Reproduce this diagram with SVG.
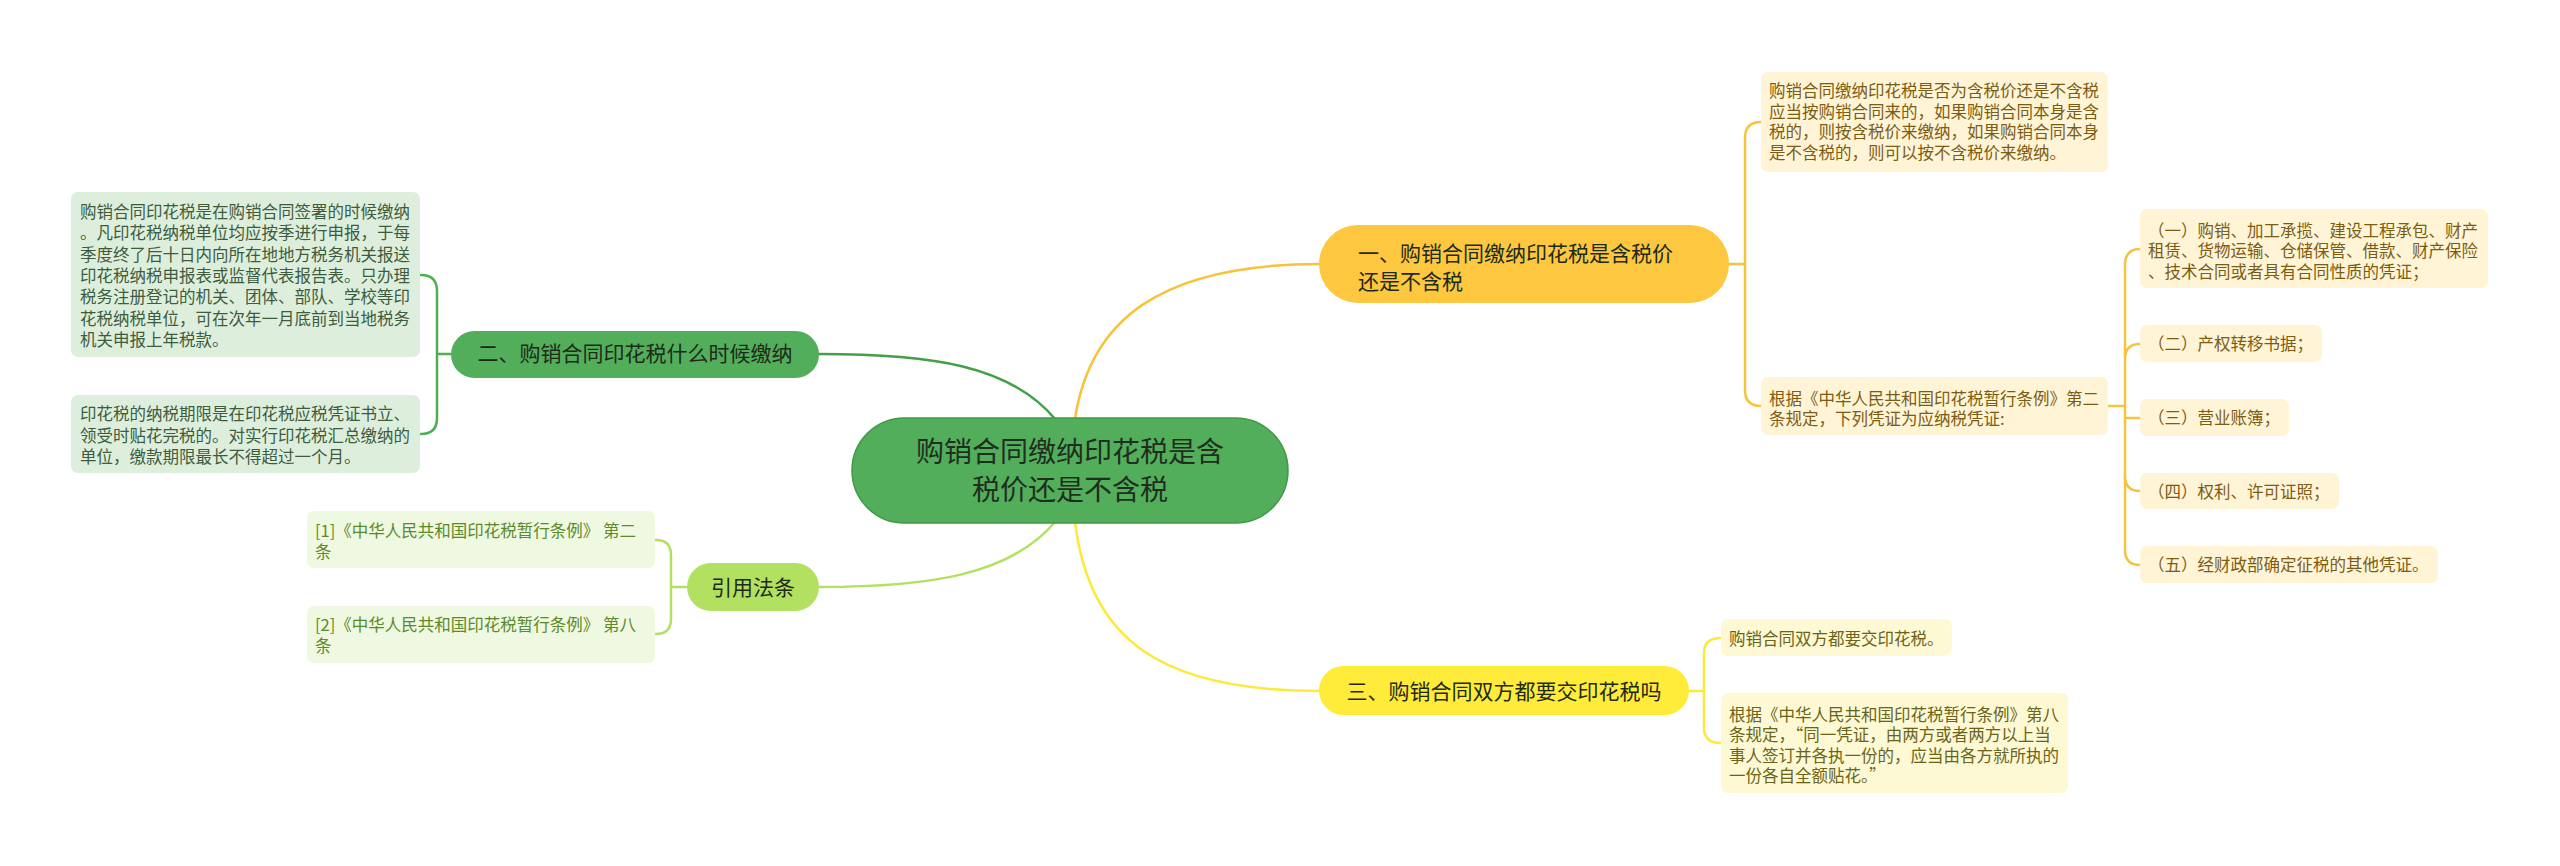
<svg xmlns="http://www.w3.org/2000/svg" width="2560" height="866" viewBox="0 0 2560 866">
<style>
text{font-family:"Noto Sans CJK SC","Noto Sans",sans-serif;}
.conn{fill:none;stroke-width:2.5;stroke-linecap:round;}
.t16{font-size:16.5px;}
.gbox{fill:#ddefdc;}
.gtxt{fill:#3d5c3d;}
.lbox{fill:#eff8e0;}
.ltxt{fill:#5b8a2a;}
.ybox{fill:#fff4d6;}
.ytxt{fill:#7c5c12;}
.bbox{fill:#fdf9d4;}
.btxt{fill:#6b6418;}
.ntxt{font-size:21px;fill:#1e2a18;}
</style>
<rect width="2560" height="866" fill="#ffffff"/>
<g id="connectors">
<path class="conn" stroke="#43a047" d="M1055,419 C1010,365 930,354 819,354"/>
<path class="conn" stroke="#b2e061" d="M1055,522 C1010,575 930,587 819,587"/>
<path class="conn" stroke="#f8c33c" d="M1075,419 C1090,320 1160,264 1320,264"/>
<path class="conn" stroke="#fde93a" d="M1075,522 C1090,640 1160,691 1320,691"/>
<path class="conn" stroke="#4caf50" d="M451,354 H437 M437,354 V291 Q437,275 421,275 M437,354 V418 Q437,434 421,434"/>
<path class="conn" stroke="#b2e061" d="M687,587 H671 M671,587 V555 Q671,540 656,540 M671,587 V619 Q671,634 656,634"/>
<path class="conn" stroke="#f8c33c" d="M1729,264 H1745 M1745,264 V138 Q1745,122 1761,122 M1745,264 V390 Q1745,406 1761,406"/>
<path class="conn" stroke="#f8c33c" d="M2108,406 H2125 M2125,406 V265 Q2125,249 2140,249 M2125,406 V359 Q2125,344 2140,344 M2125,406 V418 H2140 M2125,406 V476 Q2125,491 2140,491 M2125,406 V550 Q2125,565 2140,565"/>
<path class="conn" stroke="#fde93a" d="M1689,691 H1704 M1704,691 V653 Q1704,638 1721,638 M1704,691 V728 Q1704,743 1721,743"/>
</g>
<g id="root">
<rect x="852" y="418" width="436" height="105" rx="52.5" fill="#52ae5a" stroke="#3f9a46" stroke-width="1.5"/>
<text x="1070" y="462" font-size="28" fill="#1f2e1f" text-anchor="middle">购销合同缴纳印花税是含</text>
<text x="1070" y="500" font-size="28" fill="#1f2e1f" text-anchor="middle">税价还是不含税</text>
</g>
<g id="branch-when">
<rect x="451" y="331" width="368" height="47" rx="23.5" fill="#52ae5a"/>
<text class="ntxt" x="635" y="361" text-anchor="middle">二、购销合同印花税什么时候缴纳</text>
</g>
<g id="when-1">
<rect class="gbox" x="71" y="192" width="349" height="165" rx="7"/>
<text class="t16 gtxt" x="80" y="218">购销合同印花税是在购销合同签署的时候缴纳</text>
<text class="t16 gtxt" x="80" y="239.3">。凡印花税纳税单位均应按季进行申报，于每</text>
<text class="t16 gtxt" x="80" y="260.6">季度终了后十日内向所在地地方税务机关报送</text>
<text class="t16 gtxt" x="80" y="281.9">印花税纳税申报表或监督代表报告表。只办理</text>
<text class="t16 gtxt" x="80" y="303.2">税务注册登记的机关、团体、部队、学校等印</text>
<text class="t16 gtxt" x="80" y="324.5">花税纳税单位，可在次年一月底前到当地税务</text>
<text class="t16 gtxt" x="80" y="345.8">机关申报上年税款。</text>
</g>
<g id="when-2">
<rect class="gbox" x="71" y="395" width="349" height="78" rx="7"/>
<text class="t16 gtxt" x="80" y="420">印花税的纳税期限是在印花税应税凭证书立、</text>
<text class="t16 gtxt" x="80" y="441.5">领受时贴花完税的。对实行印花税汇总缴纳的</text>
<text class="t16 gtxt" x="80" y="463">单位，缴款期限最长不得超过一个月。</text>
</g>
<g id="branch-law">
<rect x="687" y="563" width="132" height="48" rx="24" fill="#b2e061"/>
<text class="ntxt" x="753" y="595" text-anchor="middle">引用法条</text>
</g>
<g id="law-1">
<rect class="lbox" x="307" y="511" width="348" height="57" rx="7"/>
<text class="t16 ltxt" x="315" y="536.5">[1]《中华人民共和国印花税暂行条例》 第二</text>
<text class="t16 ltxt" x="315" y="558">条</text>
</g>
<g id="law-2">
<rect class="lbox" x="307" y="606" width="348" height="57" rx="7"/>
<text class="t16 ltxt" x="315" y="630.5">[2]《中华人民共和国印花税暂行条例》 第八</text>
<text class="t16 ltxt" x="315" y="652">条</text>
</g>
<g id="branch-price">
<rect x="1319" y="225" width="410" height="78" rx="39" fill="#fdc83f"/>
<text class="ntxt" x="1358" y="260.5">一、购销合同缴纳印花税是含税价</text>
<text class="ntxt" x="1358" y="289">还是不含税</text>
</g>
<g id="price-1">
<rect class="ybox" x="1761" y="72" width="347" height="100" rx="7"/>
<text class="t16 ytxt" x="1769" y="97">购销合同缴纳印花税是否为含税价还是不含税</text>
<text class="t16 ytxt" x="1769" y="117.5">应当按购销合同来的，如果购销合同本身是含</text>
<text class="t16 ytxt" x="1769" y="138">税的，则按含税价来缴纳，如果购销合同本身</text>
<text class="t16 ytxt" x="1769" y="158.5">是不含税的，则可以按不含税价来缴纳。</text>
</g>
<g id="price-2">
<rect class="ybox" x="1761" y="377" width="347" height="58" rx="7"/>
<text class="t16 ytxt" x="1769" y="405">根据《中华人民共和国印花税暂行条例》第二</text>
<text class="t16 ytxt" x="1769" y="425">条规定，下列凭证为应纳税凭证:</text>
</g>
<g id="item-1">
<rect class="ybox" x="2140" y="209" width="348" height="79" rx="7"/>
<text class="t16 ytxt" x="2148" y="236.5">（一）购销、加工承揽、建设工程承包、财产</text>
<text class="t16 ytxt" x="2148" y="257">租赁、货物运输、仓储保管、借款、财产保险</text>
<text class="t16 ytxt" x="2148" y="277.5">、技术合同或者具有合同性质的凭证；</text>
</g>
<g id="item-2">
<rect class="ybox" x="2140" y="325" width="182" height="37" rx="7"/>
<text class="t16 ytxt" x="2148" y="350">（二）产权转移书据；</text>
</g>
<g id="item-3">
<rect class="ybox" x="2140" y="399" width="149" height="37" rx="7"/>
<text class="t16 ytxt" x="2148" y="424">（三）营业账簿；</text>
</g>
<g id="item-4">
<rect class="ybox" x="2140" y="473" width="199" height="36" rx="7"/>
<text class="t16 ytxt" x="2148" y="497.5">（四）权利、许可证照；</text>
</g>
<g id="item-5">
<rect class="ybox" x="2140" y="546" width="298" height="37" rx="7"/>
<text class="t16 ytxt" x="2148" y="571">（五）经财政部确定征税的其他凭证。</text>
</g>
<g id="branch-both">
<rect x="1319" y="666" width="370" height="49" rx="24.5" fill="#feeb3a"/>
<text class="ntxt" x="1504" y="698.5" text-anchor="middle">三、购销合同双方都要交印花税吗</text>
</g>
<g id="both-1">
<rect class="bbox" x="1721" y="619" width="231" height="37" rx="7"/>
<text class="t16 btxt" x="1729" y="645">购销合同双方都要交印花税。</text>
</g>
<g id="both-2">
<rect class="bbox" x="1721" y="693" width="347" height="100" rx="7"/>
<text class="t16 btxt" x="1729" y="721">根据《中华人民共和国印花税暂行条例》第八</text>
<text class="t16 btxt" x="1729" y="741.3">条规定，“同一凭证，由两方或者两方以上当</text>
<text class="t16 btxt" x="1729" y="761.6">事人签订并各执一份的，应当由各方就所执的</text>
<text class="t16 btxt" x="1729" y="782">一份各自全额贴花。”</text>
</g>
</svg>
